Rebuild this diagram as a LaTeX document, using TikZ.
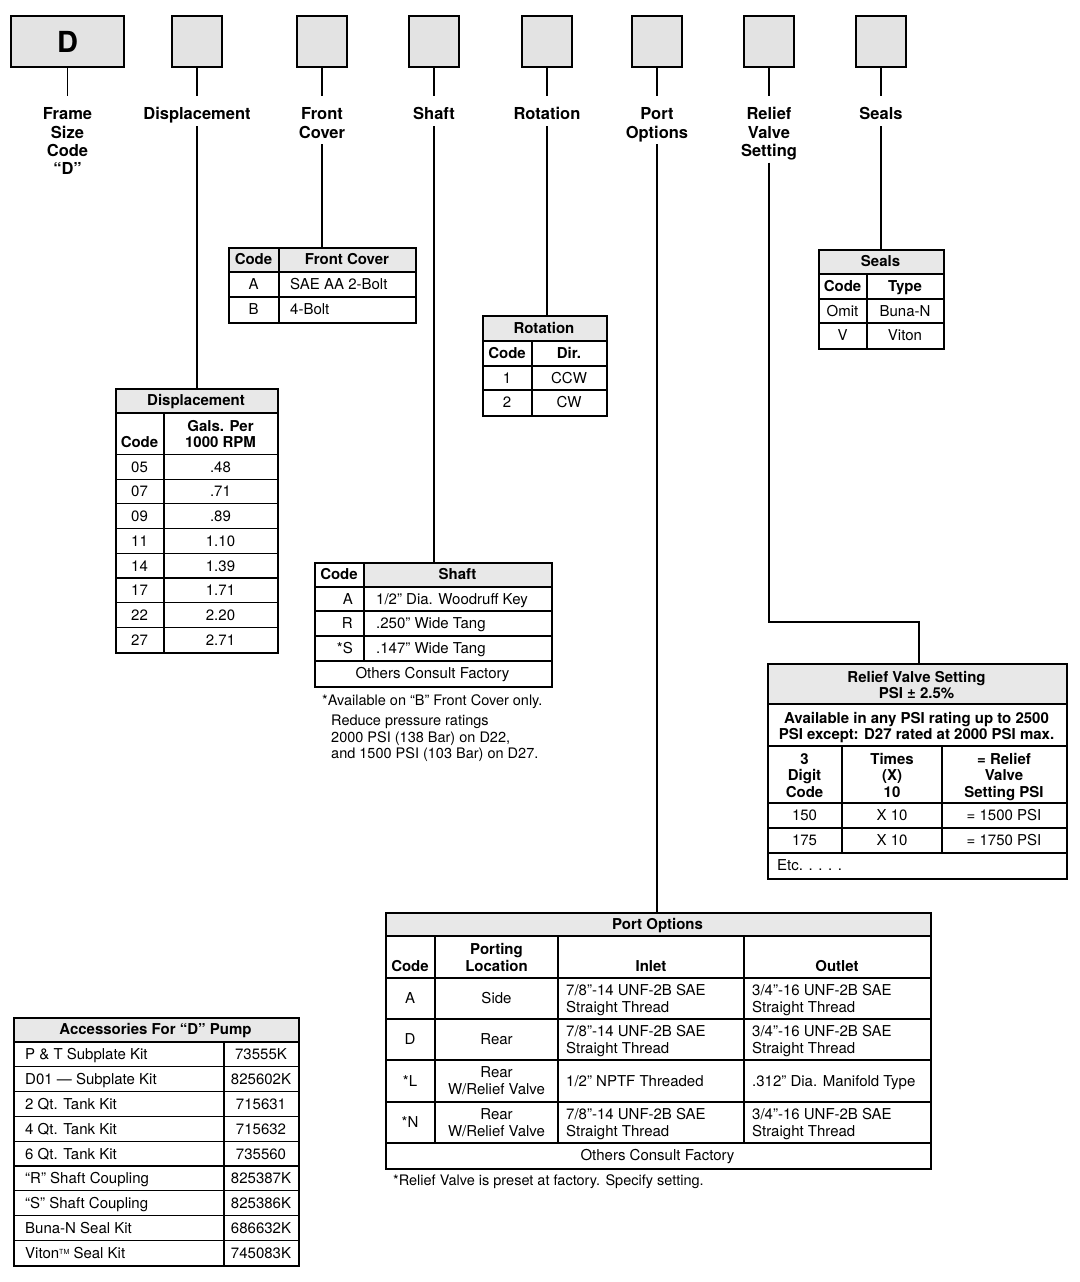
\documentclass[tikz,border=0pt]{standalone}
\usepackage{fontspec}
\setmainfont{TeX Gyre Heros}
\usetikzlibrary{positioning}

\begin{document}
\begin{tikzpicture}[
  x=1pt, y=-1pt,
  node distance=28pt,
  slot/.style={draw, line width=1.4pt, fill=gray!22, minimum width=50pt, minimum height=51pt, inner sep=0pt},
  lbl/.style={font=\fontsize{16.5}{18.3}\selectfont\bfseries, align=center, text height=18pt, text depth=0pt, inner xsep=2pt, inner ysep=6pt},
  link/.style={line width=1.3pt},
  tframe/.style={draw, line width=1.6pt, inner sep=0pt, anchor=north west},
  rule/.style={line width=1.1pt},
  shade/.style={fill=gray!18},
  cell/.style={font=\fontsize{15}{17}\selectfont, align=center, inner sep=0pt, text height=10.8pt, text depth=0pt},
  hcell/.style={cell, font=\fontsize{15}{16.5}\selectfont\bfseries},
  lcell/.style={cell, anchor=west, align=left},
  hl2/.style={text height=27.3pt},
  hl3/.style={text height=43.8pt},
  bl2/.style={text height=27.8pt}
]
\useasboundingbox (0,0) rectangle (1079,1282);

% code slots
\node[slot, minimum width=113pt, font=\fontsize{29}{29}\selectfont\bfseries] (bframe) at (67.5,41.5) {D};
\node[slot] (bdisp) at (197,41.5) {};
\node[slot] (bcover) at (322,41.5) {};
\node[slot] (bshaft) at (434,41.5) {};
\node[slot] (brot) at (547,41.5) {};
\node[slot] (bport) at (657,41.5) {};
\node[slot] (brelief) at (769,41.5) {};
\node[slot] (bseals) at (881,41.5) {};

% slot names
\node[lbl, below=of bframe, text height=72.9pt] (lframe) {Frame\\Size\\Code\\``D''};
\node[lbl, below=of bdisp] (ldisp) {Displacement};
\node[lbl, below=of bcover, text height=36.3pt] (lcover) {Front\\Cover};
\node[lbl, below=of bshaft] (lshaft) {Shaft};
\node[lbl, below=of brot] (lrot) {Rotation};
\node[lbl, below=of bport, text height=36.3pt] (lport) {Port\\Options};
\node[lbl, below=of brelief, text height=54.6pt] (lrelief) {Relief\\Valve\\Setting};
\node[lbl, below=of bseals] (lseals) {Seals};

% front cover
\fill[shade] (228,247) rectangle (415,272);
\node[tframe, minimum width=187pt, minimum height=75pt] (tcover) at (228,247) {};
\draw[rule] (228,272) -- (415,272) (228,297) -- (415,297) (279,247) -- (279,322);
\node[hcell] (fcode) at (253.5,259.5) {Code};
\node[hcell] (fhead) at (347,259.5) {Front Cover};
\node[cell] (fa) at (253.5,284.5) {A};
\node[lcell] (fat) at (290,284.5) {SAE AA 2-Bolt};
\node[cell] (fb) at (253.5,309.5) {B};
\node[lcell] (fbt) at (290,309.5) {4-Bolt};

% displacement
\fill[shade] (115,388) rectangle (277,413);
\node[tframe, minimum width=162pt, minimum height=264pt] (tdisp) at (115,388) {};
\draw[rule] (115,413) -- (277,413) (164,413) -- (164,652);
\foreach \i in {0,...,7} \draw[rule] (115,{454.5+24.7*\i}) -- (277,{454.5+24.7*\i});
\node[hcell] (dtitle) at (196,400.5) {Displacement};
\node[hcell] (dcode) at (139.5,442) {Code};
\node[hcell, hl2] (dgals) at (220.5,434) {Gals. Per\\1000 RPM};
\foreach \c/\v [count=\i] in {05/.48, 07/.71, 09/.89, 11/1.10, 14/1.39, 17/1.71, 22/2.20, 27/2.71} {
  \node[cell] (dc\i) at (139.5,{454.5+24.7*(\i-0.5)}) {\c};
  \node[cell] (dv\i) at (220.5,{454.5+24.7*(\i-0.5)}) {\v};
}

% shaft
\fill[shade] (364,562) rectangle (551,587);
\node[tframe, minimum width=237pt, minimum height=124pt] (tshaft) at (314,562) {};
\draw[rule] (314,587) -- (551,587) (314,611) -- (551,611) (314,636) -- (551,636) (314,661) -- (551,661) (364,562) -- (364,661);
\node[hcell] (scode) at (339,574.5) {Code};
\node[hcell] (shead) at (457.5,574.5) {Shaft};
\node[cell, anchor=east] (sa) at (353,599) {A};
\node[lcell] (sat) at (376,599) {1/2'' Dia. Woodruff Key};
\node[cell, anchor=east] (sr) at (353,623.5) {R};
\node[lcell] (srt) at (376,623.5) {.250'' Wide Tang};
\node[cell, anchor=east] (ss) at (353,648.5) {*S};
\node[lcell] (sst) at (376,648.5) {.147'' Wide Tang};
\node[cell] (sother) at (432.5,673.5) {Others Consult Factory};
\node[lcell, font=\fontsize{14.5}{16.5}\selectfont] (snote) at (322,700) {*Available on ``B'' Front Cover only.};
\node[lcell, anchor=north west, font=\fontsize{14.5}{16.5}\selectfont, text height=43.4pt] (sreduce) at (331,715) {Reduce pressure ratings\\2000 PSI (138 Bar) on D22,\\and 1500 PSI (103 Bar) on D27.};

% rotation
\fill[shade] (482,315) rectangle (606,341);
\node[tframe, minimum width=124pt, minimum height=100pt] (trot) at (482,315) {};
\draw[rule] (482,341) -- (606,341) (482,366) -- (606,366) (482,390) -- (606,390) (532,341) -- (532,415);
\node[hcell] (rtitle) at (544,328) {Rotation};
\node[hcell] (rcode) at (507,353.5) {Code};
\node[hcell] (rdir) at (569,353.5) {Dir.};
\node[cell] (r1) at (507,378) {1};
\node[cell] (r1d) at (569,378) {CCW};
\node[cell] (r2) at (507,402.5) {2};
\node[cell] (r2d) at (569,402.5) {CW};

% seals
\fill[shade] (818,249) rectangle (943,274);
\node[tframe, minimum width=125pt, minimum height=99pt] (tseals) at (818,249) {};
\draw[rule] (818,274) -- (943,274) (818,299) -- (943,299) (818,323) -- (943,323) (867,274) -- (867,348);
\node[hcell] (etitle) at (880.5,261.5) {Seals};
\node[hcell] (ecode) at (842.5,286.5) {Code};
\node[hcell] (etype) at (905,286.5) {Type};
\node[cell] (eomit) at (842.5,311) {Omit};
\node[cell] (ebuna) at (905,311) {Buna-N};
\node[cell] (ev) at (842.5,335.5) {V};
\node[cell] (eviton) at (905,335.5) {Viton};

% relief valve setting
\fill[shade] (767,663) rectangle (1066,704);
\node[tframe, minimum width=299pt, minimum height=215pt] (trelief) at (767,663) {};
\draw[rule] (767,704) -- (1066,704) (767,746) -- (1066,746) (767,803) -- (1066,803) (767,828) -- (1066,828) (767,853) -- (1066,853) (842,746) -- (842,853) (942,746) -- (942,853);
\node[hcell, hl2] (vtitle) at (916.5,685) {Relief Valve Setting\\PSI ± 2.5\%};
\node[hcell, hl2] (vnote) at (916.5,726) {Available in any PSI rating up to 2500\\PSI except: D27 rated at 2000 PSI max.};
\node[hcell, hl3] (vcode) at (804.5,775.5) {3\\Digit\\Code};
\node[hcell, hl3] (vtimes) at (892,775.5) {Times\\(X)\\10};
\node[hcell, hl3] (vset) at (1004,775.5) {= Relief\\Valve\\Setting PSI};
\node[cell] (v150) at (804.5,815.5) {150};
\node[cell] (v150x) at (892,815.5) {X 10};
\node[cell] (v150p) at (1004,815.5) {= 1500 PSI};
\node[cell] (v175) at (804.5,840.5) {175};
\node[cell] (v175x) at (892,840.5) {X 10};
\node[cell] (v175p) at (1004,840.5) {= 1750 PSI};
\node[lcell] (vetc) at (777,865.5) {Etc. . . . .};

% port options
\fill[shade] (385,912) rectangle (930,936);
\node[tframe, minimum width=545pt, minimum height=256pt] (tport) at (385,912) {};
\draw[rule] (385,936) -- (930,936) (385,978) -- (930,978) (385,1019) -- (930,1019) (385,1060) -- (930,1060) (385,1102) -- (930,1102) (385,1143) -- (930,1143) (435,936) -- (435,1143) (558,936) -- (558,1143) (744,936) -- (744,1143);
\node[hcell] (ptitle) at (657.5,924) {Port Options};
\node[hcell] (pcode) at (410,966) {Code};
\node[hcell, hl2] (ploc) at (496.5,957.5) {Porting\\Location};
\node[hcell] (pin) at (651,966) {Inlet};
\node[hcell] (pout) at (837,966) {Outlet};
\node[cell] (pa) at (410,998.5) {A};
\node[cell] (pal) at (496.5,998.5) {Side};
\node[lcell, bl2] (pai) at (566,998.5) {7/8''-14 UNF-2B SAE\\Straight Thread};
\node[lcell, bl2] (pao) at (752,998.5) {3/4''-16 UNF-2B SAE\\Straight Thread};
\node[cell] (pd) at (410,1039.5) {D};
\node[cell] (pdl) at (496.5,1039.5) {Rear};
\node[lcell, bl2] (pdi) at (566,1039.5) {7/8''-14 UNF-2B SAE\\Straight Thread};
\node[lcell, bl2] (pdo) at (752,1039.5) {3/4''-16 UNF-2B SAE\\Straight Thread};
\node[cell] (pl) at (410,1081) {*L};
\node[cell, bl2] (pll) at (496.5,1081) {Rear\\W/Relief Valve};
\node[lcell] (pli) at (566,1081) {1/2'' NPTF Threaded};
\node[lcell] (plo) at (752,1081) {.312'' Dia. Manifold Type};
\node[cell] (pn) at (410,1122.5) {*N};
\node[cell, bl2] (pnl) at (496.5,1122.5) {Rear\\W/Relief Valve};
\node[lcell, bl2] (pni) at (566,1122.5) {7/8''-14 UNF-2B SAE\\Straight Thread};
\node[lcell, bl2] (pno) at (752,1122.5) {3/4''-16 UNF-2B SAE\\Straight Thread};
\node[cell] (pother) at (657.5,1155) {Others Consult Factory};
\node[lcell, font=\fontsize{14.5}{16.5}\selectfont] (pnote) at (393,1180) {*Relief Valve is preset at factory. Specify setting.};

% accessories
\fill[shade] (13,1017) rectangle (298,1042);
\node[tframe, minimum width=285pt, minimum height=248pt] (tacc) at (13,1017) {};
\draw[rule] (224,1042) -- (224,1265);
\foreach \i in {0,...,8} \draw[rule] (13,{1042+24.8*\i}) -- (298,{1042+24.8*\i});
\node[hcell] (atitle) at (155.5,1029.5) {Accessories For ``D'' Pump};
\foreach \t/\n [count=\i] in {P \& T Subplate Kit/73555K, D01 --- Subplate Kit/825602K, 2 Qt. Tank Kit/715631, 4 Qt. Tank Kit/715632, 6 Qt. Tank Kit/735560, ``R'' Shaft Coupling/825387K, ``S'' Shaft Coupling/825386K, Buna-N Seal Kit/686632K, Viton{\raisebox{4pt}{\fontsize{7}{7}\selectfont TM}} Seal Kit/745083K} {
  \node[lcell] (ai\i) at (25,{1042+24.8*(\i-0.5)}) {\t};
  \node[cell] (an\i) at (261,{1042+24.8*(\i-0.5)}) {\n};
}

% leaders
\draw[link] (bframe) -- (lframe);
\draw[link] (bdisp) -- (ldisp);
\draw[link] (bcover) -- (lcover);
\draw[link] (bshaft) -- (lshaft);
\draw[link] (brot) -- (lrot);
\draw[link] (bport) -- (lport);
\draw[link] (brelief) -- (lrelief);
\draw[link] (bseals) -- (lseals);
\draw[link] (ldisp) -- (ldisp |- tdisp.north);
\draw[link] (lcover) -- (lcover |- tcover.north);
\draw[link] (lshaft) -- (lshaft |- tshaft.north);
\draw[link] (lrot) -- (lrot |- trot.north);
\draw[link] (lport) -- (lport |- tport.north);
\draw[link] (lseals) -- (lseals |- tseals.north);
\coordinate (rjog) at (919,622);
\draw[link] (lrelief) |- (rjog) -- (rjog |- trelief.north);
\end{tikzpicture}
\end{document}
